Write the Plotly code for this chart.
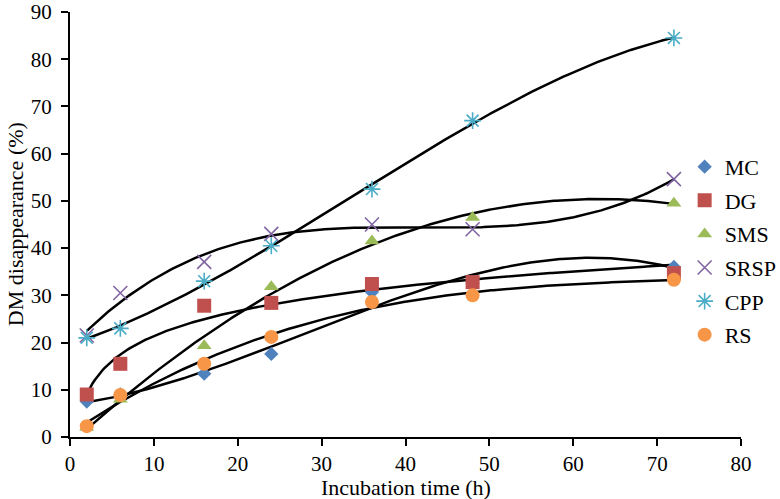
import numpy as np
import plotly.graph_objects as go

hours = [2, 6, 16, 24, 36, 48, 72]
mc = [7.5, 9.0, 13.4, 17.6, 30.7, 32.5, 36.0]
dg = [9.0, 15.5, 27.8, 28.4, 32.4, 32.8, 34.7]
sms = [2.0, 8.0, 19.3, 31.8, 41.5, 46.5, 49.5]
srsp = [21.5, 30.5, 37.1, 43.0, 45.0, 44.0, 54.6]
cpp = [21.0, 23.0, 33.0, 40.5, 52.5, 67.0, 84.5]
rs = [2.3, 8.9, 15.5, 21.2, 28.6, 30.0, 33.3]

# name, values, symbol, colour, marker size, trendline type
series = [
    ("MC", mc, "diamond", "#4F81BD", 11, ("poly", 3)),
    ("DG", dg, "square", "#C0504D", 14, ("log", None)),
    ("SMS", sms, "triangle-up", "#9BBB59", 13, ("poly", 3)),
    ("SRSP", srsp, "x-thin", "#8064A2", 14, ("poly", 3)),
    ("CPP", cpp, "asterisk", "#4BACC6", 14, ("poly", 3)),
    ("RS", rs, "circle", "#F79646", 14, ("poly", 3)),
]

fig = go.Figure()
x = np.array(hours, dtype=float)
xs = np.linspace(x.min(), x.max(), 300)
for name, vals, sym, col, sz, (kind, order) in series:
    y = np.array(vals, dtype=float)
    if kind == "poly":
        ys = np.polyval(np.polyfit(x, y, order), xs)
    else:
        ys = np.polyval(np.polyfit(np.log(x), y, 1), np.log(xs))
    fig.add_trace(go.Scatter(x=xs, y=ys, mode="lines", line=dict(color="black", width=2.5),
                             showlegend=False, hoverinfo="skip"))

for name, vals, sym, col, sz, _ in series:
    lw = 1.6 if sym in ("x-thin", "asterisk") else 0
    fig.add_trace(go.Scatter(x=hours, y=vals, mode="markers", name=name, legendgroup=name,
                             marker=dict(symbol=sym, size=sz, color=col,
                                         line=dict(color=col, width=lw))))

font = "Liberation Serif, Times New Roman, serif"
fig.update_layout(
    width=780, height=499,
    margin=dict(l=70, r=39, t=12, b=62, autoexpand=False),
    plot_bgcolor="white", paper_bgcolor="white",
    font=dict(family=font, size=21, color="black"),
    legend=dict(x=0.916, xanchor="left", y=0.685, yanchor="top",
                font=dict(size=22), tracegroupgap=2, traceorder="grouped",
                itemwidth=30, bgcolor="rgba(0,0,0,0)"),
    xaxis=dict(range=[0, 80], dtick=10, showgrid=False, zeroline=False,
               showline=True, linecolor="black", linewidth=2, automargin=False,
               ticks="outside", ticklen=7, tickwidth=2, tickcolor="black",
               tickfont=dict(size=21)),
    yaxis=dict(range=[0, 90], dtick=10, showgrid=False, zeroline=False,
               showline=True, linecolor="black", linewidth=2, automargin=False,
               ticks="outside", ticklen=7, tickwidth=2, tickcolor="black",
               tickfont=dict(size=21), ticklabelstandoff=5),
    annotations=[
        dict(text="Incubation time (h)", xref="paper", yref="paper", x=0.5, y=-0.118,
             xanchor="center", yanchor="middle", showarrow=False, font=dict(size=22)),
        dict(text="DM disappearance (%)", xref="paper", yref="paper", x=-0.081, y=0.5,
             xanchor="center", yanchor="middle", textangle=-90, showarrow=False,
             font=dict(size=22)),
    ],
)
fig.write_html("out.html", config={"displayModeBar": False},
               post_script="document.body.style.margin='0';")
